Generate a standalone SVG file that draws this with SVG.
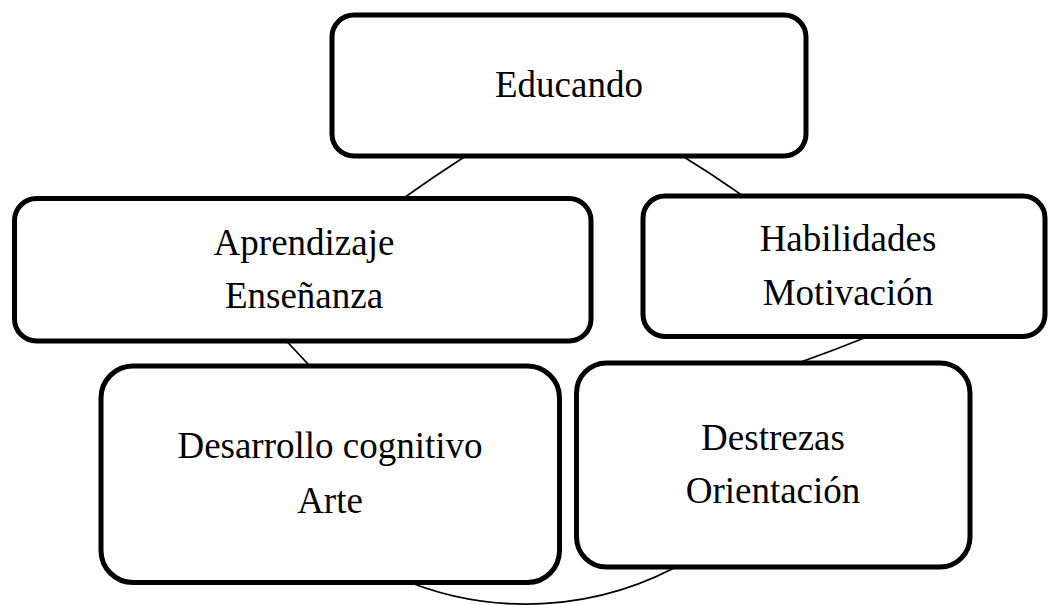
<svg xmlns="http://www.w3.org/2000/svg" width="1049" height="605" viewBox="0 0 1049 605">
<style>
.bg{fill:#ffffff}
.conn{fill:none;stroke:#000000;stroke-width:1.8}
.box{fill:#ffffff;stroke:#000000;stroke-width:5}
.lbl{font-family:"Liberation Serif","Times New Roman",serif;font-size:37px;fill:#000000;text-anchor:middle}
</style>
<rect class="bg" x="0" y="0" width="1049" height="605"/>
<g id="connectors">
<path class="conn" d="M 382 214 Q 430 178 488 142"/>
<path class="conn" d="M 655 140 Q 710 171 765 212"/>
<path class="conn" d="M 903 322 Q 833 352 763 375"/>
<path class="conn" d="M 688.5 560 A 322 322 0 0 1 399 578"/>
<path class="conn" d="M 320 377 Q 297 352 275 329"/>
</g>
<g id="node-educando">
<rect class="box" x="332" y="15" width="474" height="141" rx="22" ry="22"/>
<text class="lbl" x="569" y="97">Educando</text>
</g>
<g id="node-aprendizaje">
<rect class="box" x="14.5" y="198.5" width="576.5" height="142.5" rx="22" ry="22"/>
<text class="lbl" x="304" y="255">Aprendizaje</text>
<text class="lbl" x="304" y="308">Enseñanza</text>
</g>
<g id="node-habilidades">
<rect class="box" x="643" y="196" width="402" height="140.5" rx="22" ry="22"/>
<text class="lbl" x="848" y="251">Habilidades</text>
<text class="lbl" x="848" y="305">Motivación</text>
</g>
<g id="node-desarrollo">
<rect class="box" x="101" y="366" width="458.5" height="216.5" rx="32" ry="32"/>
<text class="lbl" x="330" y="458">Desarrollo cognitivo</text>
<text class="lbl" x="330" y="513">Arte</text>
</g>
<g id="node-destrezas">
<rect class="box" x="576.5" y="363" width="393.5" height="204" rx="30" ry="30"/>
<text class="lbl" x="773" y="450">Destrezas</text>
<text class="lbl" x="773" y="503">Orientación</text>
</g>
</svg>
